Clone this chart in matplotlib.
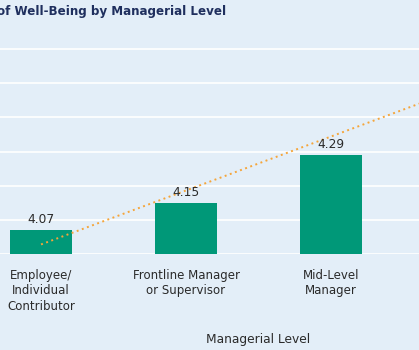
import numpy as np
import matplotlib
matplotlib.use("Agg")
import matplotlib.pyplot as plt
import matplotlib.transforms as mtransforms

# data (the 4th bar sits past the right edge, its value is estimated from the trend line)
categories = ["Employee/\nIndividual\nContributor", "Frontline Manager\nor Supervisor",
              "Mid-Level\nManager", "Senior\nLeader"]
scores = [4.07, 4.15, 4.29, 4.55]
value_labels = ["4.07", "4.15", "4.29", "4.55"]
y_ticks = [4.0, 4.1, 4.2, 4.3, 4.4, 4.5, 4.6]

bg = "#e3eef8"
bar_color = "#009878"
trend_color = "#f5a53a"
navy = "#1f2f5e"
txt = "#2a2a2a"

plt.rcParams["font.family"] = ["DejaVu Sans"]

fig = plt.figure(figsize=(4.19, 3.5), dpi=100, facecolor=bg)
ax = fig.add_axes([0, 1 - 254 / 350, 1, (254 - 32) / 350])
ax.set_facecolor(bg)

xmin, xmax = -0.283, 2.607
x = np.arange(len(categories))
ax.bar(x, scores, width=0.43, color=bar_color, zorder=2)

# only label the bars that fall inside the cropped view
for xi, v, lab in zip(x, scores, value_labels):
    if xi > xmax:
        continue
    ax.text(xi, v + 0.012, lab, ha="center", va="bottom", fontsize=8.8, color=txt, zorder=4)

# linear trend line
coef = np.polyfit(x, scores, 1)
ax.plot(x, np.polyval(coef, x), linestyle=(0, (1, 1.8)), color=trend_color,
        linewidth=1.4, zorder=3)

ax.set_yticks(y_ticks)
ax.set_xticks(x)
ax.set_xticklabels(categories, linespacing=1.25)
ax.set_ylim(4.0, 4.65)
ax.set_xlim(xmin, xmax)
ax.yaxis.grid(True, color="white", linewidth=1.2)
ax.set_axisbelow(True)
ax.tick_params(axis="y", left=False, labelleft=False)
ax.tick_params(axis="x", bottom=False, pad=7, labelsize=8.5, labelcolor=txt)
for s in ax.spines.values():
    s.set_visible(False)

# axis title centred on the full category range
tr = mtransforms.blended_transform_factory(ax.transData, fig.transFigure)
ax.text(1.5, 1 - 340 / 350, "Managerial Level", transform=tr, ha="center", va="center",
        fontsize=8.8, color=txt)

fig.text(-0.008, 1 - 12 / 350, "of Well-Being by Managerial Level", ha="left", va="center",
         fontsize=8.6, fontweight="bold", color=navy)

fig.savefig("out.png", dpi=100, facecolor=bg)
